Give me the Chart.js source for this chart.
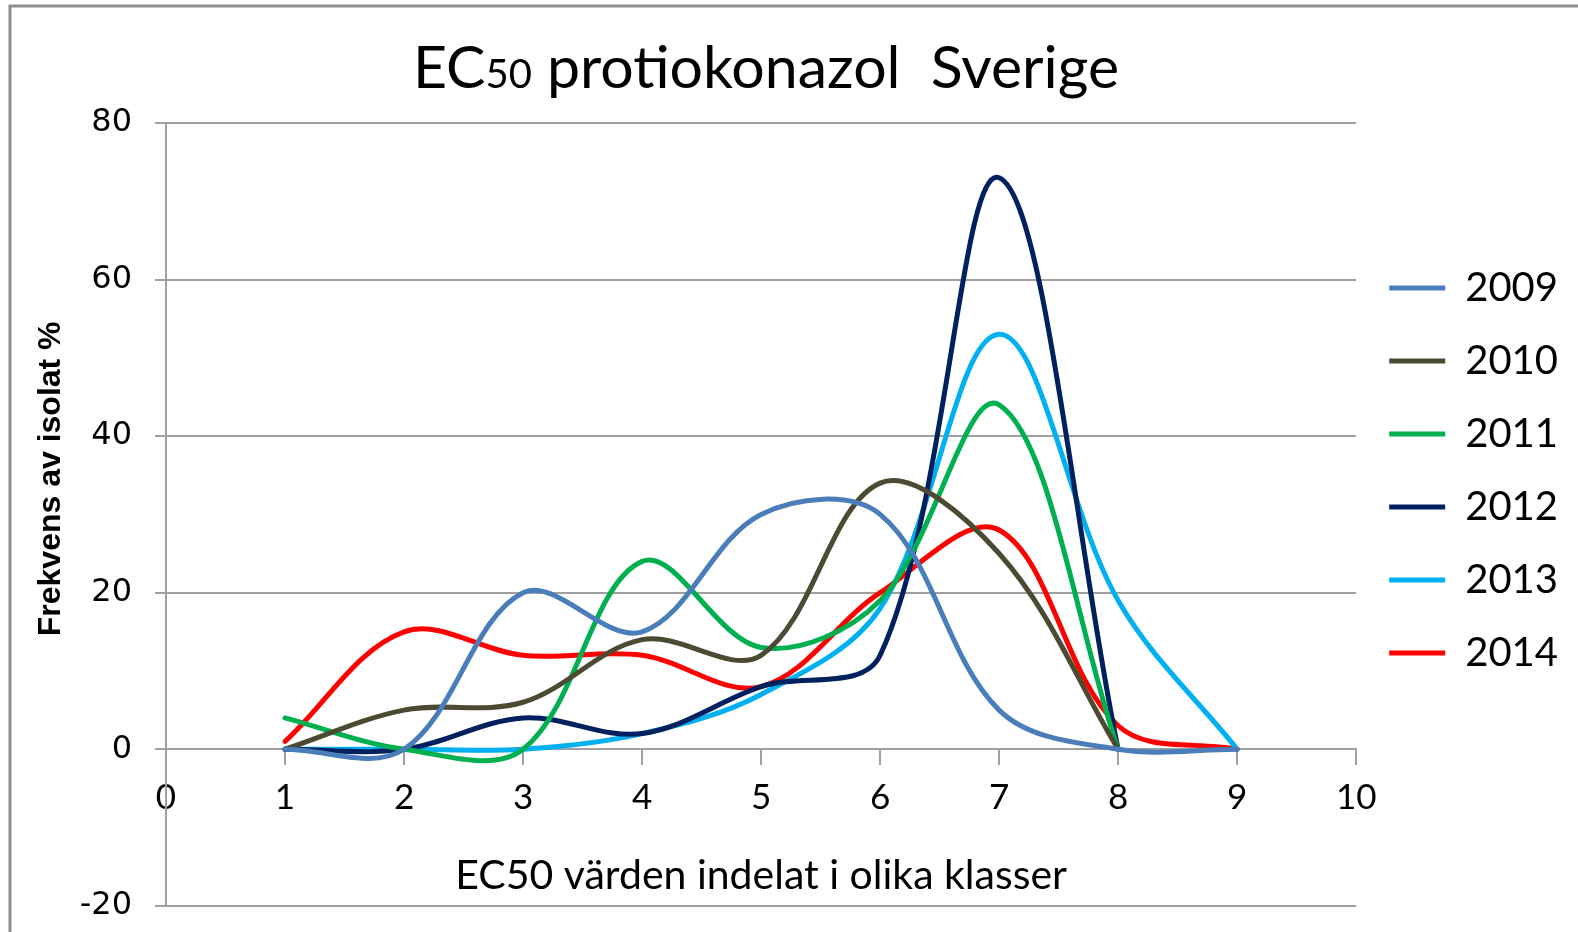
<!DOCTYPE html>
<html>
<head>
<meta charset="utf-8">
<script src="https://cdn.jsdelivr.net/npm/chart.js@4.4.1/dist/chart.umd.min.js"></script>
<style>
  html, body { margin: 0; padding: 0; background: #fff; overflow: hidden; }
  #wrap { width: 1578px; height: 948px; position: relative; }
</style>
</head>
<body>
<div id="wrap"><canvas id="myChart" width="1578" height="948"></canvas></div>
<script>
// EC50 classes on the x axis
let classes = [1, 2, 3, 4, 5, 6, 7, 8, 9];

// frequency of isolates (%) per class, per year
let y2009 = [0, 0, 20, 15, 30, 30, 5, 0, 0];
let y2010 = [0, 5, 6, 14, 12, 34, 25, 0];
let y2011 = [4, 0, 0, 24, 13, 19, 44, 0];
let y2012 = [0, 0, 4, 2, 8, 12, 73, 0];
let y2013 = [0, 0, 0, 2, 7, 18, 53, 19, 0];
let y2014 = [1, 15, 12, 12, 8, 20, 28, 3, 0];

let years = ['2009', '2010', '2011', '2012', '2013', '2014'];
let colors = ['#4a7ebb', '#4d4a33', '#00b050', '#002060', '#00b0f0', '#ff0000'];
let series = [y2009, y2010, y2011, y2012, y2013, y2014];

let xTicks = [0, 10];
let yTicks = [-20, 80];

let titleParts = [['EC', 59], ['50', 40], [' protiokonazol  Sverige', 59]];
let xTitle = 'EC50 värden indelat i olika klasser';
let yTitle = 'Frekvens av isolat %';

let gridColor = '#a0a0a0';

let ctx = document.getElementById('myChart').getContext('2d');

// white background, grey frame and the two-size title
let frame = {
    id: 'frame',
    beforeDraw(chart) {
        let c = chart.ctx;
        c.save();
        c.fillStyle = '#fff';
        c.fillRect(0, 0, chart.width, chart.height);
        c.strokeStyle = '#8c8c8c';
        c.lineWidth = 3;
        c.beginPath();
        c.moveTo(10, chart.height);
        c.lineTo(10, 6);
        c.lineTo(chart.width, 6);
        c.stroke();
        c.restore();
    },
    afterDraw(chart) {
        let c = chart.ctx;
        c.save();
        c.fillStyle = '#000';
        c.textBaseline = 'alphabetic';
        let total = 0;
        titleParts.forEach(p => {
            c.font = p[1] + 'px Lato';
            total += c.measureText(p[0]).width;
        });
        let x = 766 - total / 2;
        titleParts.forEach(p => {
            c.font = p[1] + 'px Lato';
            c.fillText(p[0], x, 88);
            x += c.measureText(p[0]).width;
        });
        c.restore();
    }
};

let chart = new Chart(ctx, {
    type: 'line',
    data: {
        datasets: series.map((s, i) => ({
            label: years[i],
            data: s.map((v, j) => ({x: classes[j], y: v})),
            borderColor: colors[i],
            backgroundColor: colors[i],
            borderWidth: 5,
            borderCapStyle: 'round',
            pointRadius: 0,
            fill: false,
            tension: 0.35
        }))
    },
    options: {
        responsive: false,
        animation: false,
        layout: { padding: { top: 123, bottom: 0, left: 20, right: 10 } },
        plugins: {
            title: { display: false },
            tooltip: { enabled: false },
            legend: {
                position: 'right',
                align: 'start',
                title: { display: true, text: '', font: { size: 10 }, padding: { top: 100, bottom: 0 } },
                labels: {
                    usePointStyle: true,
                    pointStyle: 'line',
                    pointStyleWidth: 56,
                    padding: 33,
                    color: '#000',
                    font: { family: 'Lato', size: 40 }
                }
            }
        },
        scales: {
            x: {
                type: 'linear',
                position: { y: 0 },
                min: xTicks[0],
                max: xTicks[1],
                ticks: { stepSize: 1, padding: 12, color: '#000', font: { family: 'Lato', size: 35 } },
                grid: { drawOnChartArea: false, drawTicks: true, tickLength: 15, color: gridColor, lineWidth: 2 },
                border: { display: true, color: gridColor, width: 2 },
                title: {
                    display: true,
                    text: xTitle,
                    color: '#000',
                    font: { family: 'Lato', size: 41 },
                    padding: { top: 21, bottom: 0 }
                }
            },
            y: {
                min: yTicks[0],
                max: yTicks[1],
                ticks: { stepSize: 20, padding: 23, color: '#000', font: { family: 'DejaVu Sans', size: 32 } },
                grid: { color: gridColor, lineWidth: 2, drawTicks: true, tickLength: 11 },
                border: { display: true, color: gridColor, width: 2 },
                title: {
                    display: true,
                    text: '        ' + yTitle,
                    color: '#000',
                    font: { family: 'Liberation Sans', size: 32, weight: 'bold' },
                    padding: { top: 12, bottom: 0 }
                },
                afterFit(scale) { scale.width = 146; }
            }
        }
    },
    plugins: [frame]
});
</script>
</body>
</html>
